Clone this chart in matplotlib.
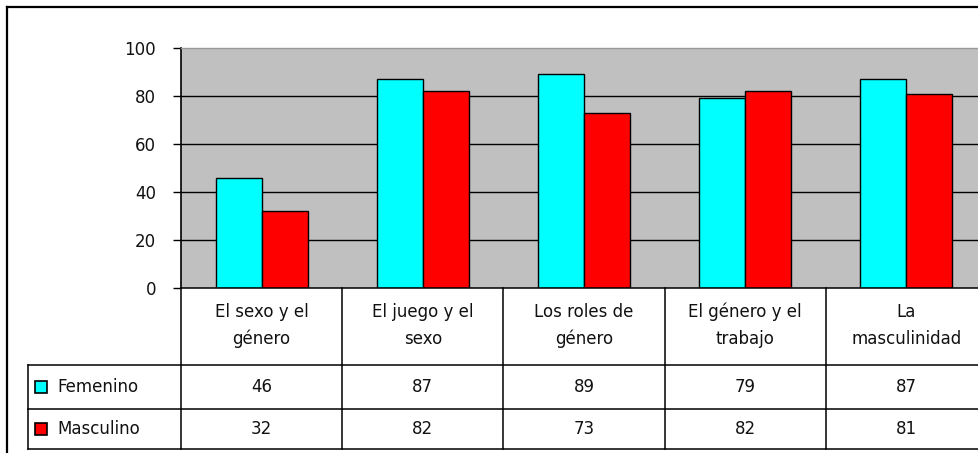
import numpy as np
import matplotlib.pyplot as plt
from matplotlib.lines import Line2D
from matplotlib.patches import Rectangle

# data
categories = ["El sexo y el\ngénero", "El juego y el\nsexo", "Los roles de\ngénero",
              "El género y el\ntrabajo", "La\nmasculinidad"]
series_names = ["Femenino", "Masculino"]
femenino = [46, 87, 89, 79, 87]
masculino = [32, 82, 73, 82, 81]
yticks = [0, 20, 40, 60, 80, 100]

colors = ["#00FFFF", "#FF0000"]
W, H = 979, 453
plt.rcParams['font.family'] = ['DejaVu Sans']
FS = 12

fig = plt.figure(figsize=(W / 100, H / 100), dpi=100)

# pixel helpers (from top-left)
def fx(px):
    return px / W

def fy(py):
    return 1 - py / H

# outer chart border (right/bottom edges are cut off in the original)
fig.add_artist(Line2D([fx(7.5), fx(7.5)], [fy(6.5), -0.1], color="black", lw=1.6))
fig.add_artist(Line2D([fx(7.5), 1.1], [fy(6.5), fy(6.5)], color="black", lw=1.6))

# main plot area: x 181..987 px, y 48..288 px
ax = fig.add_axes([fx(181), fy(288), (987 - 181) / W, (288 - 48) / H])
ax.set_facecolor("#C0C0C0")
x = np.arange(len(categories))
bw = 46 / 161
ax.bar(x - bw / 2, femenino, bw, color=colors[0], edgecolor="black", lw=1, zorder=3)
ax.bar(x + bw / 2, masculino, bw, color=colors[1], edgecolor="black", lw=1, zorder=3)
ax.set_xlim(-0.5, len(categories) - 0.5)
ax.set_ylim(0, 100)
ax.set_yticks(yticks)
ax.set_yticklabels([str(v) for v in yticks], fontsize=FS, color="#111111")
ax.tick_params(axis="y", direction="out", length=6, width=1, pad=12)
ax.set_xticks([])
for v in yticks[1:-1]:
    ax.axhline(v, color="black", lw=1, zorder=1)
for s in ["top", "right"]:
    ax.spines[s].set_color("#999999")
    ax.spines[s].set_linewidth(1)
ax.spines["left"].set_linewidth(1.2)
ax.spines["bottom"].set_visible(False)

# data table below the plot, in pixel units (0 at top = 288 px)
tab = fig.add_axes([fx(181), fy(449), (987 - 181) / W, (449 - 288) / H])
tab.set_xlim(-0.5, len(categories) - 0.5)
tab.set_ylim(161, 0)
tab.axis("off")
unit = 1 / 161  # px -> data units along x
left = -0.5 - (181 - 28) * unit
right = len(categories) - 0.5 + 0.2
row_y = [0, 77, 121, 161]
lk = dict(color="black", lw=1.1, clip_on=False)
tab.plot([-0.5, right], [row_y[0], row_y[0]], **lk)
for yy in row_y[1:]:
    tab.plot([left, right], [yy, yy], **lk)
tab.plot([left, left], [row_y[1], row_y[3]], **lk)
for i in range(len(categories)):
    tab.plot([i - 0.5, i - 0.5], [row_y[0], row_y[3]], **lk)

for i, lab in enumerate(categories):
    tab.text(i, (row_y[0] + row_y[1]) / 2 - 1, lab, ha="center", va="center",
             fontsize=FS, linespacing=1.65, color="#111111")

for r, (name, vals) in enumerate(zip(series_names, [femenino, masculino])):
    yc = (row_y[r + 1] + row_y[r + 2]) / 2
    tab.add_patch(Rectangle((left + 7 * unit, yc - 6), 12 * unit, 12,
                            facecolor=colors[r], edgecolor="black", lw=1.2, clip_on=False))
    tab.text(left + 30 * unit, yc, name, ha="left", va="center", fontsize=FS, color="#111111")
    for i, v in enumerate(vals):
        tab.text(i, yc, str(v), ha="center", va="center", fontsize=FS, color="#111111")

fig.savefig("out.png", dpi=100)
